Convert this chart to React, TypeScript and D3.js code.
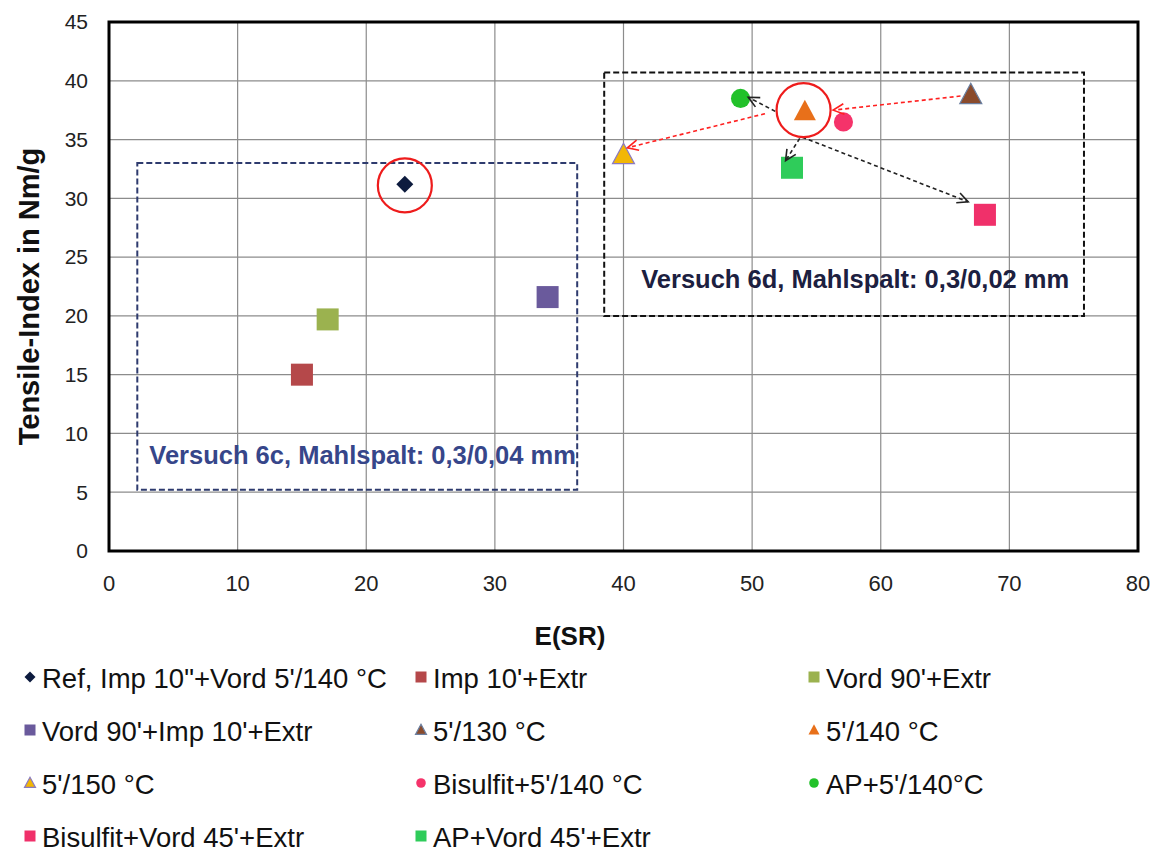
import React from 'react';
import * as d3 from 'd3';

// --- data ---
const seriesNames = [
  'Ref, Imp 10"+Vord 5\'/140 °C',
  "Imp 10'+Extr",
  "Vord 90'+Extr",
  "Vord 90'+Imp 10'+Extr",
  "5'/130 °C",
  "5'/140 °C",
  "5'/150 °C",
  "Bisulfit+5'/140 °C",
  "AP+5'/140°C",
  "Bisulfit+Vord 45'+Extr",
  "AP+Vord 45'+Extr",
];
const esr = [23, 15, 17, 34.1, 67, 54.1, 40, 57.1, 49.1, 68.1, 53.1];
const tensile = [31.2, 15.0, 19.7, 21.6, 38.8, 37.4, 33.7, 36.5, 38.5, 28.6, 32.6];
const shapes = ['diamond', 'square', 'square', 'square', 'triangle', 'triangle', 'triangle', 'circle', 'circle', 'square', 'square'];
const colors = ['#0d1b3e', '#b5484a', '#9bb24f', '#6a5a9c', '#8a4b2c', '#e8701a', '#f2b705', '#f5336a', '#22c12a', '#f0306a', '#2fcc5a'];
const outlines = [null, null, null, null, '#6b7fa0', null, '#8a7ac0', null, null, null, null];

const xTicks = [0, 10, 20, 30, 40, 50, 60, 70, 80];
const yTicks = [0, 5, 10, 15, 20, 25, 30, 35, 40, 45];

// annotation boxes [x0, x1, y0, y1] in data units
const box6c = [2.2, 36.4, 5.2, 33.0];
const box6d = [38.5, 75.8, 20.0, 40.7];

// arrows: [x1, y1, x2, y2, color]
const arrows: [number, number, number, number, string][] = [
  [66.2, 38.7, 56.3, 37.5, '#ff2020'],
  [51.0, 37.2, 40.3, 34.3, '#ff2020'],
  [51.8, 37.4, 49.7, 38.6, '#222'],
  [53.7, 35.1, 52.6, 33.2, '#222'],
  [53.9, 35.2, 66.8, 29.7, '#222'],
];
const highlights = [[23, 31.1], [54, 37.5]];

const W = 1162, H = 853;
const left = 109, right = 1138, top = 22, bottom = 551;

function Marker({ shape, x, y, size, fill, stroke }: any) {
  const s = size;
  if (shape === 'square') return <rect x={x - s / 2} y={y - s / 2} width={s} height={s} fill={fill} />;
  if (shape === 'circle') return <circle cx={x} cy={y} r={s / 2.3} fill={fill} />;
  if (shape === 'diamond') {
    const r = s / 2;
    return <path d={`M${x},${y - r}L${x + r},${y}L${x},${y + r}L${x - r},${y}Z`} fill={fill} />;
  }
  const r = s / 2;
  return <path d={`M${x},${y - r * 1.05}L${x + r},${y + r * 0.8}L${x - r},${y + r * 0.8}Z`} fill={fill} stroke={stroke || 'none'} strokeWidth={1.2} />;
}

function Arrow({ x1, y1, x2, y2, color }: any) {
  const ang = Math.atan2(y2 - y1, x2 - x1);
  const len = 12, spread = 0.45;
  const ax = x2 - len * Math.cos(ang - spread), ay = y2 - len * Math.sin(ang - spread);
  const bx = x2 - len * Math.cos(ang + spread), by = y2 - len * Math.sin(ang + spread);
  return (
    <g stroke={color} strokeWidth={1.6} fill="none">
      <line x1={x1} y1={y1} x2={x2} y2={y2} strokeDasharray="4,3" />
      <path d={`M${ax},${ay}L${x2},${y2}L${bx},${by}`} />
    </g>
  );
}

export default function App() {
  const x = d3.scaleLinear().domain([0, 80]).range([left, right]);
  const y = d3.scaleLinear().domain([0, 45]).range([bottom, top]);
  const font = 'Arial, "Liberation Sans", sans-serif';

  const legendCols = [30, 421, 814];
  const legendRows = [678, 731, 784, 837];

  return (
    <div style={{ position: 'absolute', left: 0, top: 0 }}>
      <svg width={W} height={H} style={{ display: 'block', background: '#fff' }} fontFamily={font}>
        {/* grid */}
        {xTicks.map(t => (
          <line key={'gx' + t} x1={x(t)} x2={x(t)} y1={top} y2={bottom} stroke="#8c8c8c" strokeWidth={1.2} />
        ))}
        {yTicks.map(t => (
          <line key={'gy' + t} x1={left} x2={right} y1={y(t)} y2={y(t)} stroke="#8c8c8c" strokeWidth={1.2} />
        ))}
        <rect x={left} y={top} width={right - left} height={bottom - top} fill="none" stroke="#000" strokeWidth={3} />

        {/* tick labels */}
        {yTicks.map(t => (
          <text key={'ty' + t} x={left - 21} y={y(t)} dy="0.35em" textAnchor="end" fontSize={21} fill="#222">{t}</text>
        ))}
        {xTicks.map(t => (
          <text key={'tx' + t} x={x(t)} y={bottom + 40} textAnchor="middle" fontSize={22} fill="#222">{t}</text>
        ))}
        <text x={570} y={645} textAnchor="middle" fontSize={26} fontWeight="bold" fill="#111">E(SR)</text>
        <text transform={`translate(39,${(top + bottom) / 2 + 10}) rotate(-90)`} textAnchor="middle" fontSize={29} fontWeight="bold" fill="#111">Tensile-Index in Nm/g</text>

        {/* annotation boxes */}
        <rect x={x(box6c[0])} y={y(box6c[3])} width={x(box6c[1]) - x(box6c[0])} height={y(box6c[2]) - y(box6c[3])}
          fill="none" stroke="#2e3b6e" strokeWidth={2} strokeDasharray="6,3" />
        <text x={x(box6c[0]) + 12} y={y(box6c[2]) - 26} fontSize={25.5} fontWeight="bold" fill="#36468a">Versuch 6c, Mahlspalt: 0,3/0,04 mm</text>
        <rect x={x(box6d[0])} y={y(box6d[3])} width={x(box6d[1]) - x(box6d[0])} height={y(box6d[2]) - y(box6d[3])}
          fill="none" stroke="#111" strokeWidth={2} strokeDasharray="6,3" />
        <text x={x(box6d[0]) + 37} y={y(box6d[2]) - 28} fontSize={25.5} fontWeight="bold" fill="#1c2040">Versuch 6d, Mahlspalt: 0,3/0,02 mm</text>

        {/* points */}
        {esr.map((v, i) => (
          <Marker key={'p' + i} shape={shapes[i]} x={x(v)} y={y(tensile[i])}
            size={shapes[i] === 'diamond' ? 17 : 22} fill={colors[i]} stroke={outlines[i]} />
        ))}

        {/* arrows and highlight circles */}
        {arrows.map((a, i) => (
          <Arrow key={'a' + i} x1={x(a[0])} y1={y(a[1])} x2={x(a[2])} y2={y(a[3])} color={a[4]} />
        ))}
        {highlights.map((h, i) => (
          <circle key={'h' + i} cx={x(h[0])} cy={y(h[1])} r={27} fill="none" stroke="#ee1c1c" strokeWidth={2.2} />
        ))}

        {/* legend */}
        {seriesNames.map((name, i) => {
          const cx = legendCols[i % 3], cy = legendRows[Math.floor(i / 3)];
          return (
            <g key={'l' + i}>
              <Marker shape={shapes[i]} x={cx} y={cy - 1} size={11} fill={colors[i]} stroke={outlines[i]} />
              <text x={cx + 12} y={cy} dy="0.35em" fontSize={27.5} fill="#111">{name}</text>
            </g>
          );
        })}
      </svg>
    </div>
  );
}
